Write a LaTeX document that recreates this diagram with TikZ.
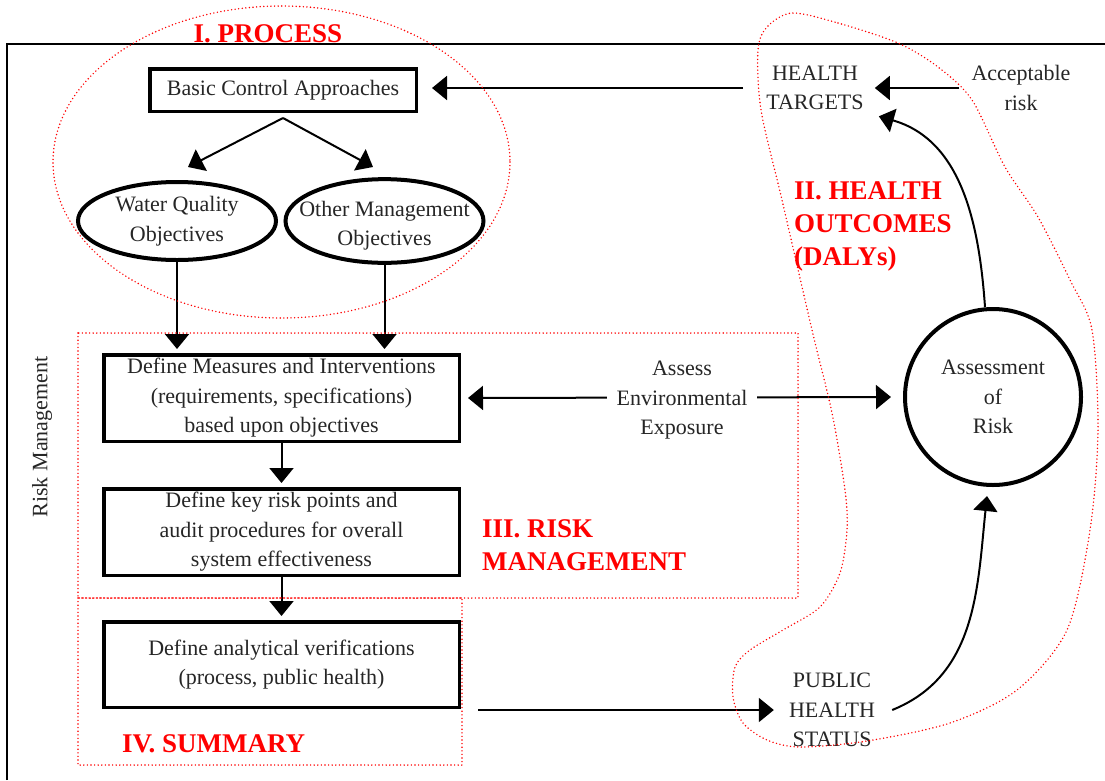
\documentclass[tikz,border=0pt]{standalone}
\usepackage{fontspec}
\setmainfont{Liberation Serif}
\usetikzlibrary{arrows.meta,shapes.geometric}

\newcommand{\bodyfont}{\fontsize{22}{29.5}\selectfont}
\newcommand{\headfont}{\fontsize{27}{33}\selectfont\bfseries}

\tikzset{
  stepbox/.style={draw, line width=3.5pt, align=center, font=\bodyfont, text=black!85, minimum width=355.5pt},
  objoval/.style={ellipse, draw, line width=4pt, align=center, font=\bodyfont, text=black!85, minimum width=198pt, minimum height=78pt, inner xsep=-22pt, inner ysep=0pt},
  labeltext/.style={align=center, font=\bodyfont, text=black!85, inner sep=0pt},
  arr/.style={line width=2pt, -{Triangle[length=15pt,width=24pt]}},
  arrboth/.style={line width=2pt, {Triangle[length=15pt,width=24pt]}-{Triangle[length=15pt,width=24pt]}},
  region/.style={red, line width=1.6pt, line cap=round, dash pattern=on 0pt off 3.6pt},
  heading/.style={red, font=\headfont, align=left, inner sep=0pt}
}

\begin{document}
\begin{tikzpicture}[x=1pt, y=-1pt]
    \useasboundingbox (0,0) rectangle (1105,780);

    % Frame
    \draw[line width=2pt] (7,780) -- (7,43.5) -- (1105,43.5);

    % Process
    \node[stepbox, minimum width=266.5pt, minimum height=42.5pt] (bca) at (283,90) {Basic Control Approaches};
    \node[objoval] (wq) at (177,221) {Water Quality\\Objectives};
    \node[objoval] (om) at (384.5,221) {\rule{0pt}{25pt}Other Management\\Objectives};
    \coordinate (split) at ([yshift=-5pt]bca.south);
    \coordinate (wqin) at (188,167);
    \coordinate (omin) at (373,167);
    \draw[arr] (split) -- (wqin);
    \draw[arr] (split) -- (omin);

    % Risk management steps
    \node[stepbox, minimum height=86.5pt] (meas) at (281.5,398) {Define Measures and Interventions\\(requirements, specifications)\\based upon objectives};
    \node[stepbox, minimum height=86.5pt] (audit) at (281.5,532) {Define key risk points and\\audit procedures for overall\\system effectiveness};
    \node[stepbox, minimum height=85.5pt] (verif) at (281.5,664.5) {Define analytical verifications\\(process, public health)};
    \draw[arr, shorten >=4pt] (wq.south) -- (wq.south |- meas.north);
    \draw[arr, shorten >=4pt] (om.south) -- (om.south |- meas.north);
    \draw[arr, shorten >=4pt] (meas) -- (audit);
    \draw[arr, shorten >=4pt] (audit) -- (verif);
    \node[labeltext, rotate=90] (rm) at (42,437) {Risk Management};

    % Health outcomes
    \node[labeltext] (targets) at (815,88) {HEALTH\\TARGETS};
    \node[labeltext] (accept) at (1021,88) {Acceptable\\risk};
    \node[labeltext, draw, circle, line width=4pt, minimum size=176pt] (risk) at (993,397) {Assessment\\of\\Risk};
    \node[labeltext] (status) at (832,710) {PUBLIC\\HEALTH\\STATUS};

    \draw[arr, shorten >=14pt] ([xshift=-23pt]targets.west) -- (targets.west -| bca.east);
    \draw[arr] ([xshift=-12pt]accept.west) -- ([xshift=11pt]targets.east);
    \draw[arr] ([xshift=-8pt]risk.north) to[out=94, in=-16] ([xshift=15pt,yshift=-6pt]targets.south east);
    \draw[arrboth, shorten <=7pt, shorten >=12pt] (meas.east) -- node[labeltext, fill=white, inner xsep=10pt, inner ysep=2pt, yshift=-3pt] (expo) {Assess\\Environmental\\Exposure} (risk.west);
    \draw[arr] ([xshift=17pt]verif.east |- status.west) -- ([xshift=-15pt]status.west);
    \draw[arr] ([xshift=17pt]status.east) to[out=22, in=-96] ([xshift=-6pt,yshift=-9pt]risk.south);

    % Red outlines
    \draw[region] (281.5,162) ellipse (228.5 and 156);
    \draw[region] (78,333) rectangle (798,598);
    \draw[region] (78,598) rectangle (462,765);
    \draw[region] plot[smooth cycle] coordinates {
        (792,13) (838,23) (898,43) (938,67) (972,100) (1005,167) (1038,217)
        (1070,280) (1092,330) (1098,430) (1090,530) (1067,630) (1017,690)
        (950,723) (867,741) (800,747) (767,740) (743,723) (733,697) (735,667)
        (750,650) (783,630) (820,607) (840,573) (847,530) (845,490) (832,413)
        (812,330) (782,200) (761,110) (758,50) (767,27)};

    % Headings
    \node[heading, anchor=base] (hproc) at (268,42) {I. PROCESS};
    \node[heading, anchor=north west] (hhealth) at (794,181) {II. HEALTH\\OUTCOMES\\(DALYs)};
    \node[heading, anchor=north west] (hrisk) at (482,519) {III. RISK\\MANAGEMENT};
    \node[heading, anchor=base west] (hsum) at (122,752) {IV. SUMMARY};
\end{tikzpicture}
\end{document}
